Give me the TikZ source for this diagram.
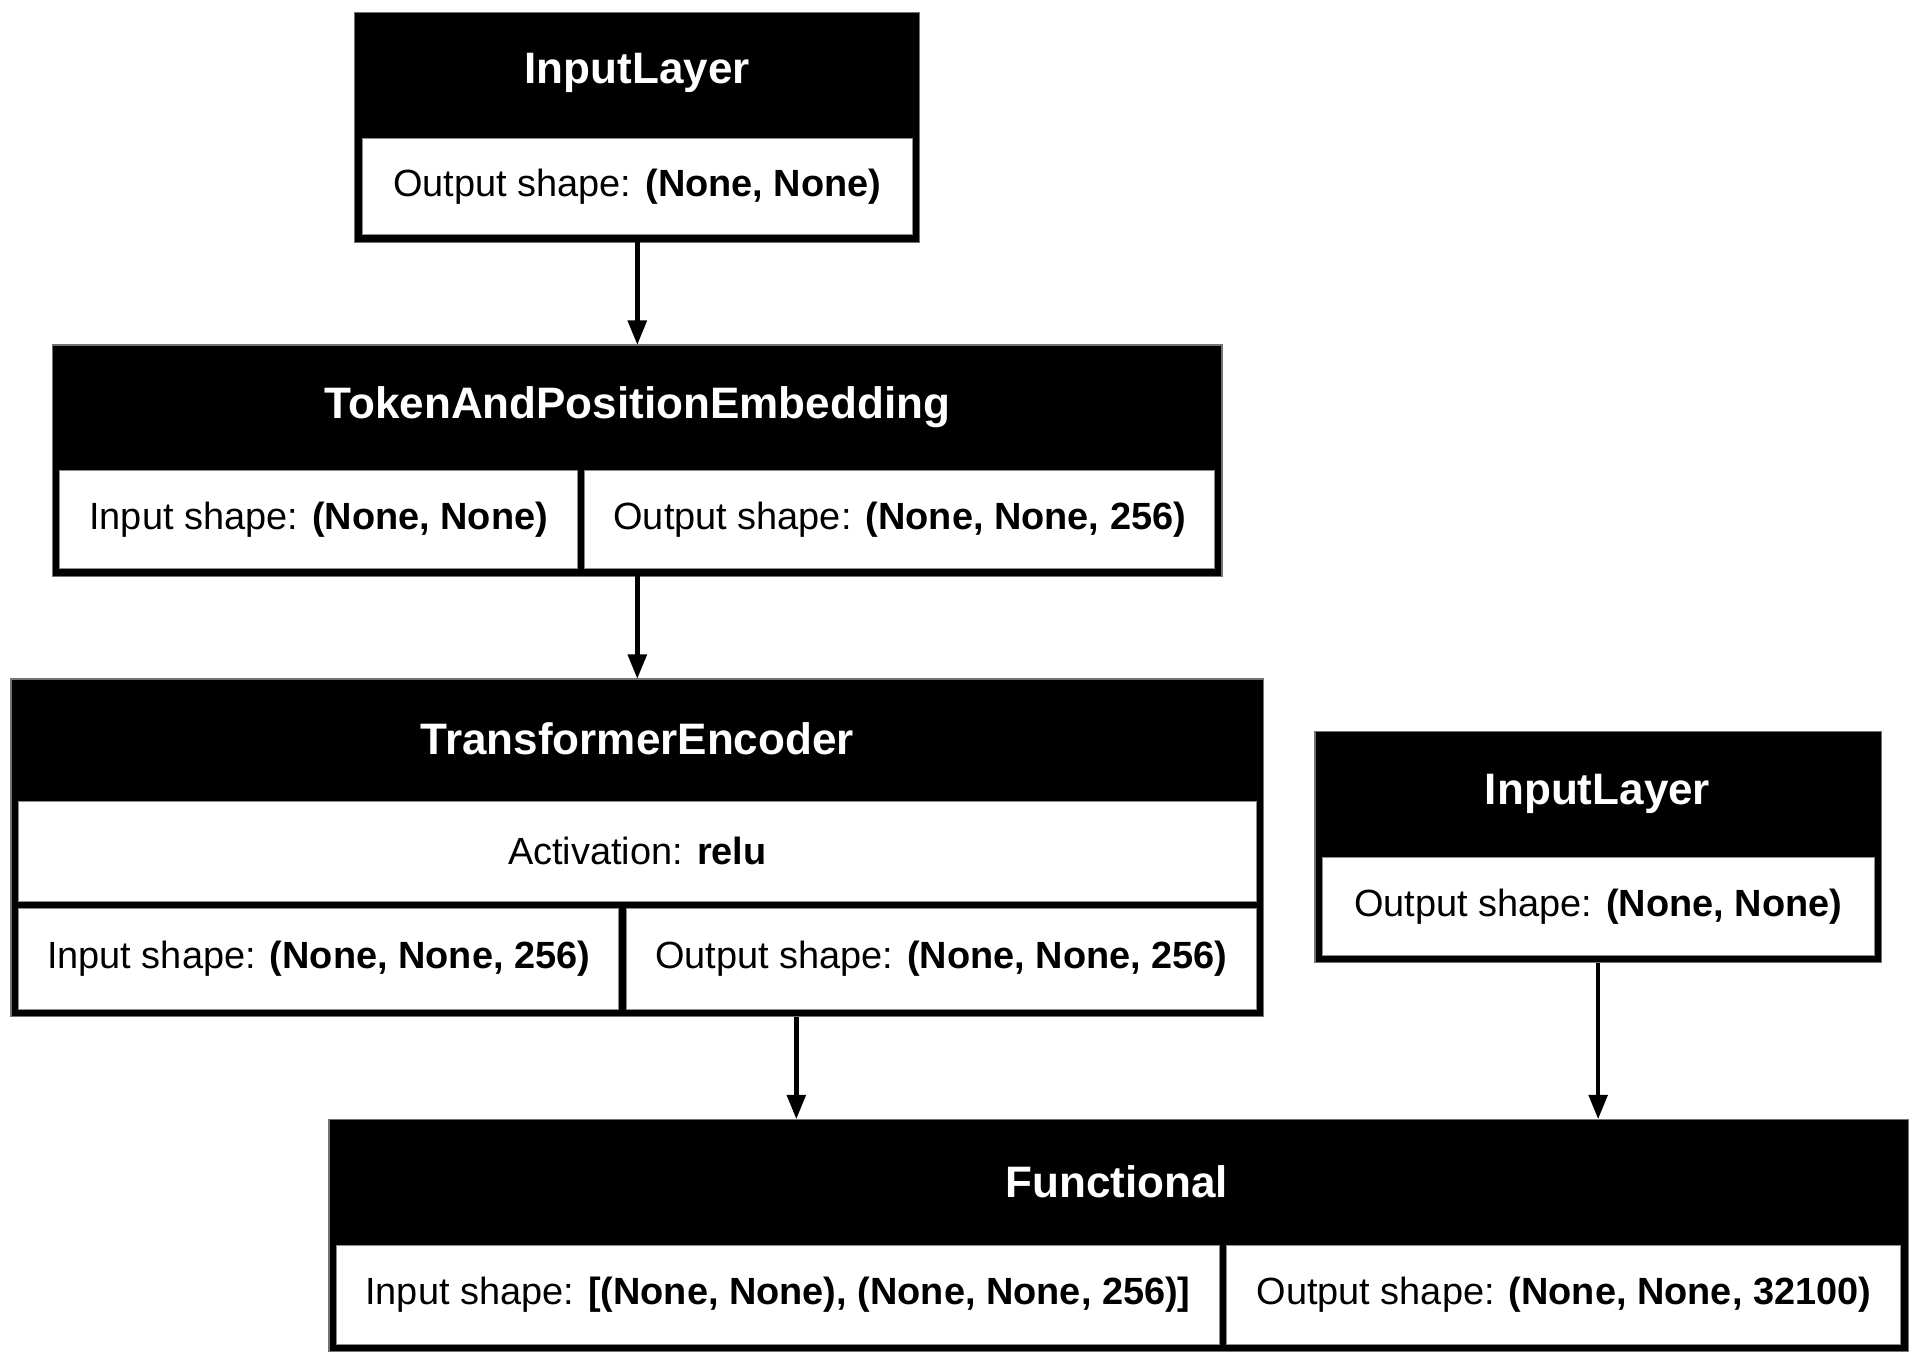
\documentclass[tikz,border=0pt]{standalone}
\usepackage{fontspec}
\setmainfont{Liberation Sans}
\usetikzlibrary{fit,arrows.meta}
\begin{document}
\begin{tikzpicture}[x=0.5pt,y=-0.5pt,
 frame/.style={inner sep=0pt, outer sep=0pt, fill=black, draw=black!55, line width=0.5pt},
 cell/.style={inner sep=0pt, outer sep=0pt, fill=white, draw=black!45, line width=0.4pt},
 txt/.style={inner sep=0pt, font=\fontsize{15.5}{18}\selectfont},
 ttl/.style={text=white, font=\fontsize{18}{21}\selectfont\bfseries, inner sep=0pt},
 arr/.style={line width=1.9pt, -{Triangle[length=10pt,width=7.5pt]}}
]
\useasboundingbox (0,0) rectangle (1568,1115);

% Box A: InputLayer (top)
\node[frame, fit={(290,10) (752,198)}] (A) {};
\node[ttl] (At) at (521,60) {InputLayer};
\node[cell, fit={(296,113) (746,192)}] (Ac) {};
\node[txt] (Act) at (Ac.center) {Output shape: \textbf{(None, None)}};

% Box B: TokenAndPositionEmbedding
\node[frame, fit={(43,282) (999,471)}] (B) {};
\node[ttl] (Bt) at (521,333) {TokenAndPositionEmbedding};
\node[cell, fit={(49,385) (472,465)}] (Bc1) {};
\node[cell, fit={(478,385) (993,465)}] (Bc2) {};
\node[txt] (Bc1t) at (Bc1.center) {Input shape: \textbf{(None, None)}};
\node[txt] (Bc2t) at (Bc2.center) {Output shape: \textbf{(None, None, 256)}};

% Box C: TransformerEncoder
\node[frame, fit={(9,555) (1033,831)}] (C) {};
\node[ttl] (Ct) at (521,604) {TransformerEncoder};
\node[cell, fit={(15,655) (1027,737)}] (Ca) {};
\node[cell, fit={(15,743) (506,825)}] (Cc1) {};
\node[cell, fit={(512,743) (1027,825)}] (Cc2) {};
\node[txt] (Cat) at (Ca.center) {Activation: \textbf{relu}};
\node[txt] (Cc1t) at (Cc1.center) {Input shape: \textbf{(None, None, 256)}};
\node[txt] (Cc2t) at (Cc2.center) {Output shape: \textbf{(None, None, 256)}};

% Box D: InputLayer (right)
\node[frame, fit={(1075,598) (1538,787)}] (D) {};
\node[ttl] (Dt) at (1306,649) {InputLayer};
\node[cell, fit={(1081,701) (1532,781)}] (Dc) {};
\node[txt] (Dct) at (Dc.center) {Output shape: \textbf{(None, None)}};

% Box E: Functional
\node[frame, fit={(269,915) (1560,1105)}] (E) {};
\node[ttl] (Et) at (913,966) {Functional};
\node[cell, fit={(275,1018) (997,1099)}] (Ec1) {};
\node[cell, fit={(1003,1018) (1554,1099)}] (Ec2) {};
\node[txt] (Ec1t) at (Ec1.center) {Input shape: \textbf{[(None, None), (None, None, 256)]}};
\node[txt] (Ec2t) at (Ec2.center) {Output shape: \textbf{(None, None, 32100)}};

% connectors
\coordinate (xCE) at (651,870);
\draw[arr] (A.south) -- (B.north);
\draw[arr] (B.south) -- (C.north);
\draw[arr] (C.south -| xCE) -- (E.north -| xCE);
\draw[arr] (D.south) -- (E.north -| D.south);
\end{tikzpicture}
\end{document}
